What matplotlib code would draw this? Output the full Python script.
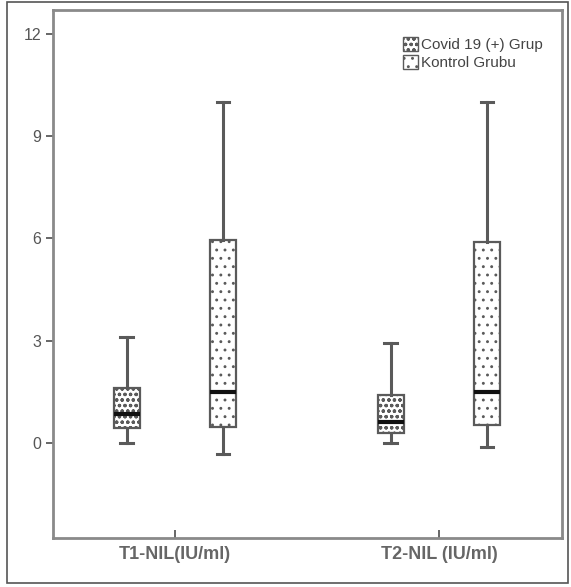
import matplotlib
matplotlib.use("Agg")
import matplotlib.pyplot as plt
from matplotlib.patches import Rectangle, Patch
import matplotlib as mpl

plt.rcParams['font.family'] = ['Liberation Sans', 'DejaVu Sans']
mpl.rcParams['hatch.color'] = '#aaaaaa'
mpl.rcParams['hatch.linewidth'] = 0.9

categories = ["T1-NIL(IU/ml)", "T2-NIL (IU/ml)"]
groups = ["Covid 19 (+) Grup", "Kontrol Grubu"]
# stats per group: [whislo, q1, med, q3, whishi] for each category
covid = [[0.0, 0.44, 0.85, 1.62, 3.12],
         [0.0, 0.29, 0.62, 1.41, 2.94]]
kontrol = [[-0.32, 0.47, 1.5, 5.94, 10.0],
           [-0.12, 0.53, 1.5, 5.88, 10.0]]
yticks = [0, 3, 6, 9, 12]

W, H = 571, 587
fig = plt.figure(figsize=(W/100, H/100), dpi=100)
ax = fig.add_axes([53/W, 1-538/H, (562-53)/W, (538-10)/H])

offset = 0.182
width = 0.098
hatches = ['ooo', '..']
edge = '#5a5a5a'

for gi, (data, hatch) in enumerate(zip([covid, kontrol], hatches)):
    sign = -1 if gi == 0 else 1
    stats = []
    for ci, s in enumerate(data):
        stats.append(dict(whislo=s[0], q1=s[1], med=s[2], q3=s[3], whishi=s[4], fliers=[]))
    pos = [ci + sign*offset for ci in range(len(categories))]
    ax.bxp(stats, positions=pos, widths=width, patch_artist=True, showfliers=False,
           boxprops=dict(facecolor='white', edgecolor=edge, linewidth=1.6, hatch=hatch),
           whiskerprops=dict(color=edge, linewidth=2.2),
           capprops=dict(color=edge, linewidth=2.2),
           medianprops=dict(color='#111111', linewidth=3),
           capwidths=width*0.5, manage_ticks=False)

ax.set_xlim(-0.462, 1.466)
ax.set_ylim(-2.79, 12.70)
ax.set_yticks(yticks)
ax.set_yticklabels([str(t) for t in yticks])
ax.set_xticks(range(len(categories)))
ax.set_xticklabels(categories, fontweight='bold', fontsize=13, color='#2a2a2a')
ax.tick_params(axis='y', colors='#666666', labelcolor='#555555', labelsize=11.5, length=5, width=1.4)
ax.tick_params(axis='x', colors='#666666', length=6, width=1.4, pad=6, direction='in')
for sp in ax.spines.values():
    sp.set_color('#8a8a8a')
    sp.set_linewidth(2)

handles = [Patch(facecolor='white', edgecolor=edge, hatch=hatches[0], label=groups[0]),
           Patch(facecolor='white', edgecolor=edge, hatch=hatches[1], label=groups[1])]
ax.legend(handles=handles, loc='upper right', bbox_to_anchor=(0.99, 0.975), frameon=False,
          fontsize=11, handlelength=1.0, handleheight=1.0, handletextpad=0.2,
          labelspacing=0.2, labelcolor='#444444')

fig.patches.append(Rectangle((7/W, 1-583/H), (568-7)/W, (583-2)/H, transform=fig.transFigure,
                             fill=False, edgecolor='#555555', linewidth=1.2))

fig.savefig('out.png', dpi=100)
